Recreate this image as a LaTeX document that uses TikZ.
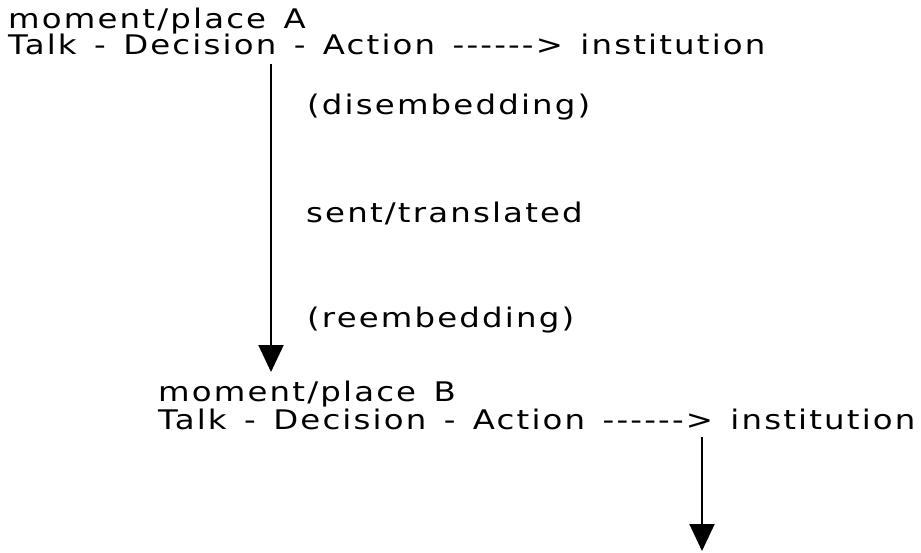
\documentclass[tikz,border=0pt]{standalone}
\usepackage{fontspec}
\setmainfont{DejaVu Sans}[Ligatures=TeXOff,FakeStretch=1.2,LetterSpace=8,WordSpace=1.4]
\usepackage{tikz}
\usetikzlibrary{arrows.meta}

\begin{document}
\begin{tikzpicture}[x=1pt,y=-1pt,
  txt/.style={anchor=base west,inner sep=0pt,font=\fontsize{27}{28}\selectfont},
  flow/.style={-{Triangle[width=25pt,length=27pt]},line width=2}]
\useasboundingbox (0,0) rectangle (921,552);

\coordinate (topA) at (271,64);
\coordinate (botA) at (271,372);
\coordinate (topB) at (702,437);
\coordinate (botB) at (702,551);

\node[txt] (placeA) at (8,28) {moment/place A};
\node[txt] (lineA) at (8,54) {Talk - Decision - Action ------> institution};

\node[txt] (dis) at (307,114) {(disembedding)};
\node[txt] (sent) at (306,222) {sent/translated};
\node[txt] (re) at (307,327) {(reembedding)};

\node[txt] (placeB) at (158,401) {moment/place B};
\node[txt] (lineB) at (158,429) {Talk - Decision - Action ------> institution};

\draw[flow] (topA) to (botA);
\draw[flow] (topB) to (botB);
\end{tikzpicture}
\end{document}
